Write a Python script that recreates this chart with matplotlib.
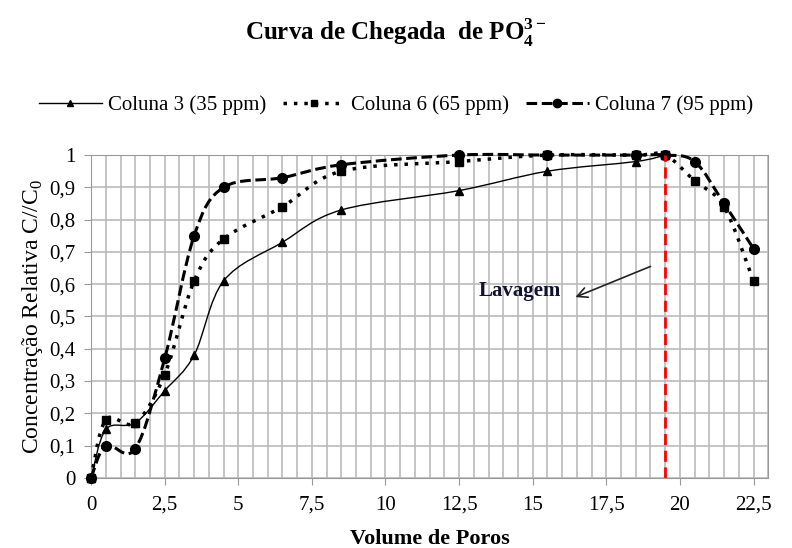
import numpy as np
import matplotlib
matplotlib.use("Agg")
import matplotlib.pyplot as plt
from matplotlib.path import Path
from matplotlib.patches import PathPatch
from matplotlib.lines import Line2D
from matplotlib.ticker import MultipleLocator, FuncFormatter

plt.rcParams['font.family'] = ['Liberation Serif', 'DejaVu Serif']
plt.rcParams['mathtext.fontset'] = 'custom'
plt.rcParams['mathtext.rm'] = 'Liberation Serif'
plt.rcParams['mathtext.bf'] = 'Liberation Serif:bold'

# volume de poros
x3 = [0, 0.5, 1.5, 2.5, 3.5, 4.5, 6.5, 8.5, 12.5, 15.5, 18.5, 19.5]
y3 = [0, 0.15, 0.17, 0.27, 0.38, 0.61, 0.73, 0.83, 0.89, 0.95, 0.98, 1.0]

x6 = [0, 0.5, 1.5, 2.5, 3.5, 4.5, 6.5, 8.5, 12.5, 15.5, 18.5, 19.5, 20.5, 21.5, 22.5]
y6 = [0, 0.18, 0.17, 0.32, 0.61, 0.74, 0.84, 0.95, 0.98, 1.0, 1.0, 1.0, 0.92, 0.84, 0.61]

x7 = [0, 0.5, 1.5, 2.5, 3.5, 4.5, 6.5, 8.5, 12.5, 15.5, 18.5, 19.5, 20.5, 21.5, 22.5]
y7 = [0, 0.10, 0.09, 0.37, 0.75, 0.90, 0.93, 0.97, 1.0, 1.0, 1.0, 1.0, 0.98, 0.85, 0.71]

labels = ['Coluna 3 (35 ppm)', 'Coluna 6 (65 ppm)', 'Coluna 7 (95 ppm)']
lavagem_x = 19.5


def smooth_path(x, y):
    # bezier through the points, like excel's smoothed line
    x = np.asarray(x, float)
    y = np.asarray(y, float)
    verts = [(x[0], y[0])]
    codes = [Path.MOVETO]
    n = len(x)
    for i in range(n - 1):
        p0 = np.array([x[max(i - 1, 0)], y[max(i - 1, 0)]])
        p1 = np.array([x[i], y[i]])
        p2 = np.array([x[i + 1], y[i + 1]])
        p3 = np.array([x[min(i + 2, n - 1)], y[min(i + 2, n - 1)]])
        c1 = p1 + (p2 - p0) / 6.0
        c2 = p2 - (p3 - p1) / 6.0
        verts += [tuple(c1), tuple(c2), tuple(p2)]
        codes += [Path.CURVE4] * 3
    return Path(verts, codes)


fig = plt.figure(figsize=(7.92, 5.48), dpi=100)
ax = fig.add_axes([0.115, 0.128, 0.855, 0.589])

series = [
    (x3, y3, '-', 1.0, '^', 6),
    (x6, y6, (0, (1, 2)), 2.5, 's', 6),
    (x7, y7, (0, (3.5, 1.5)), 2.2, 'o', 7),
]
handles = []
for (xs, ys, ls, lw, mk, ms), lab in zip(series, labels):
    ax.add_patch(PathPatch(smooth_path(xs, ys), fill=False, edgecolor='black',
                           linestyle=ls, linewidth=lw, zorder=3, clip_on=False))
    ax.plot(xs, ys, linestyle='none', marker=mk, markersize=ms, color='black',
            zorder=4, clip_on=False)
    handles.append(Line2D([], [], color='black', linestyle=ls, linewidth=lw,
                          marker=mk, markersize=ms - 1))

ax.plot([lavagem_x, lavagem_x], [0, 1], color='red', linestyle=(0, (4, 2)),
        linewidth=2, zorder=5)
ax.annotate('', xy=(16.45, 0.56), xytext=(19.0, 0.655),
            arrowprops=dict(arrowstyle='->', color='#222222', lw=1.2,
                            shrinkA=0, shrinkB=0, mutation_scale=18))
ax.text(14.55, 0.58, 'Lavagem', fontsize=15, fontweight='bold', ha='center',
        va='center', color='#111133')

ax.set_xlim(0, 23)
ax.set_ylim(0, 1)
ax.xaxis.set_major_locator(MultipleLocator(2.5))
ax.xaxis.set_minor_locator(MultipleLocator(0.5))
ax.yaxis.set_major_locator(MultipleLocator(0.1))
comma = FuncFormatter(lambda v, p: ('%g' % round(v, 2)).replace('.', ','))
ax.xaxis.set_major_formatter(comma)
ax.yaxis.set_major_formatter(comma)
ax.grid(which='both', axis='x', color='#bbbbbb', linewidth=1.2)
ax.grid(which='major', axis='y', color='#bbbbbb', linewidth=1.2)
ax.tick_params(axis='x', which='major', direction='out', length=5, color='#999999',
               labelsize=15, pad=8)
ax.tick_params(axis='x', which='minor', length=0)
ax.tick_params(axis='y', direction='out', length=5, color='#999999', labelsize=15, pad=6)
for sp in ax.spines.values():
    sp.set_color('#999999')

ax.set_xlabel('Volume de Poros', fontsize=16, fontweight='bold', labelpad=10)
ax.set_ylabel('Concentração Relativa C//C$_0$', fontsize=17, labelpad=3)

fig.text(0.5, 0.94, r'Curva de Chegada  de PO$_\mathbf{4}^\mathbf{3-}$',
         fontsize=18, fontweight='bold', ha='center', va='center')
fig.legend(handles, labels, loc='center', bbox_to_anchor=(0.5, 0.808), ncol=3,
           frameon=False, fontsize=15, handlelength=3.0, handletextpad=0.3,
           columnspacing=0.8)

fig.savefig('out.png', dpi=100)
